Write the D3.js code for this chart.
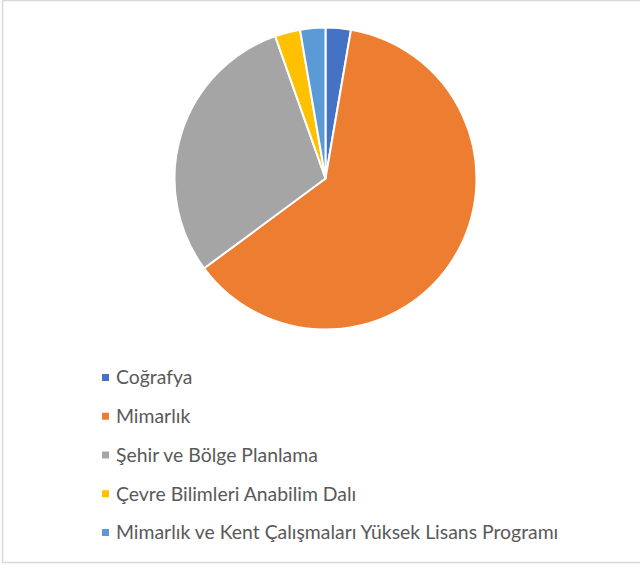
<!DOCTYPE html>
<html>
<head>
<meta charset="utf-8">
<script src="https://cdn.jsdelivr.net/npm/d3@7"></script>
<style>
  body { margin: 0; background: #fff; }
  svg { display: block; }
</style>
</head>
<body>
<script>
// data
var categories = ["Coğrafya", "Mimarlık", "Şehir ve Bölge Planlama", "Çevre Bilimleri Anabilim Dalı", "Mimarlık ve Kent Çalışmaları Yüksek Lisans Programı"];
var values = [1, 23, 11, 1, 1];
var colors = ["#4472C4", "#ED7D31", "#A5A5A5", "#FFC000", "#5B9BD5"];

var width = 640, height = 565,
    cx = 325.5, cy = 178.5, radius = 151;

var svg = d3.select("body").append("svg")
    .attr("width", width)
    .attr("height", height);

// frame
svg.append("rect")
    .attr("x", 2.5).attr("y", 0.5)
    .attr("width", 660).attr("height", 562)
    .attr("fill", "none")
    .attr("stroke", "#d9d9d9")
    .attr("stroke-width", 1.5);

var data = categories.map((c, i) => ({name: c, value: values[i], color: colors[i]}));

var pie = d3.pie()
    .value(d => d.value)
    .sort(null);

var arc = d3.arc()
    .innerRadius(0)
    .outerRadius(radius);

var g = svg.append("g")
    .attr("transform", "translate(" + cx + "," + cy + ")");

g.selectAll("path")
    .data(pie(data))
  .enter().append("path")
    .attr("d", arc)
    .attr("fill", d => d.data.color)
    .attr("stroke", "#fff")
    .attr("stroke-width", 2)
    .attr("stroke-linejoin", "round");

// legend
var legendY = d3.scalePoint()
    .domain(categories)
    .range([377.5, 532.5]);

var legend = svg.append("g").selectAll("g")
    .data(data)
  .enter().append("g")
    .attr("transform", d => "translate(102," + legendY(d.name) + ")");

legend.append("rect")
    .attr("x", 0).attr("y", -3.5)
    .attr("width", 7).attr("height", 7)
    .attr("fill", d => d.color);

legend.append("text")
    .attr("x", 14)
    .attr("y", 0)
    .attr("dy", "0.35em")
    .attr("font-family", "Lato, 'Open Sans', sans-serif")
    .attr("font-size", "19.4px")
    .attr("fill", "#595959")
    .text(d => d.name);
</script>
</body>
</html>
